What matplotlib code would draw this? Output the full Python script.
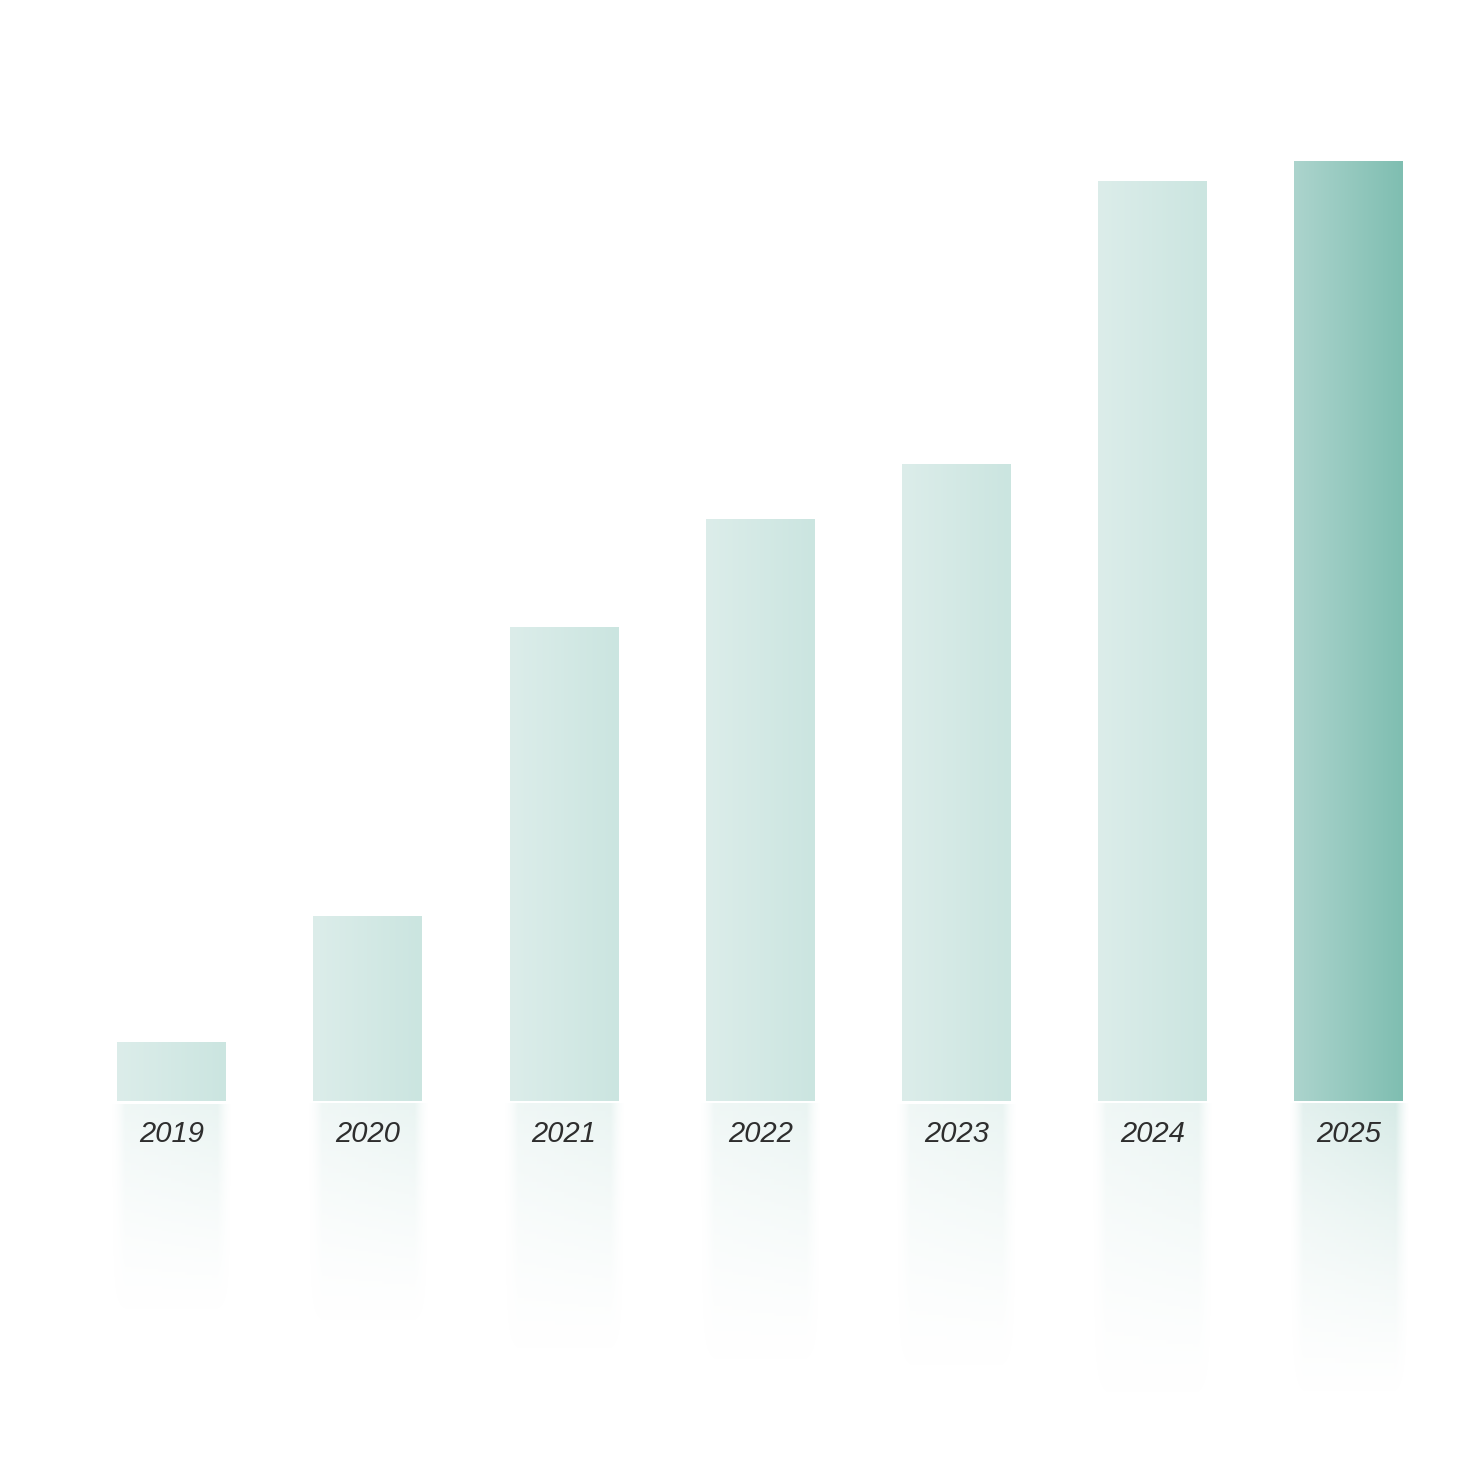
import numpy as np
import matplotlib.pyplot as plt
from matplotlib.colors import LinearSegmentedColormap, to_rgb

years = ["2019", "2020", "2021", "2022", "2023", "2024", "2025"]
values = [5.9, 18.5, 47.4, 58.2, 63.7, 92.0, 94.0]
highlight = "2025"

light_l, light_r = "#dcedea", "#cbe5e0"
dark_l, dark_r = "#acd4cd", "#7fbeb1"

fig = plt.figure(figsize=(14.8, 14.72), dpi=100)
ax = fig.add_axes([0, 0, 1, 1])
ax.set_xlim(-0.874, 6.668)
ax.set_ylim(-37.1, 110.1)
ax.axis("off")

x = np.arange(len(years))
width = 0.555
bars = ax.bar(x, values, width=width, color="none", edgecolor="none")

grad = np.linspace(0, 1, 256).reshape(1, -1)
for i, (b, yr) in enumerate(zip(bars, years)):
    if yr == highlight:
        c0, c1 = dark_l, dark_r
    else:
        c0, c1 = light_l, light_r
    cmap = LinearSegmentedColormap.from_list("g%d" % i, [c0, c1])
    x0 = b.get_x()
    x1 = x0 + b.get_width()
    h = b.get_height()
    im = ax.imshow(grad, cmap=cmap, aspect="auto", extent=[x0, x1, 0, h],
                   interpolation="bicubic", zorder=2)
    im.set_clip_path(b)

    # soft reflection below the baseline
    refl_len = 21 + 0.1 * h
    pad = 0.07
    nx, ny = 200, 200
    xs = np.linspace(x0 - pad, x1 + pad, nx)
    ys = np.linspace(0, 1, ny)
    edge = 0.07
    hx = np.clip((xs - (x0 - pad * 0.4)) / edge, 0, 1) * np.clip(((x1 + pad * 0.4) - xs) / edge, 0, 1)
    hx = hx ** 1.5
    vy = (1 - ys) ** 1.4
    a0 = 0.32 if yr == highlight else 0.42
    alpha = a0 * np.outer(vy, hx)
    t = (xs - x0) / (x1 - x0)
    t = np.clip(t, 0, 1)
    rgb0 = np.array(to_rgb(c0))
    rgb1 = np.array(to_rgb(c1))
    cols = rgb0[None, :] * (1 - t[:, None]) + rgb1[None, :] * t[:, None]
    rgba = np.zeros((ny, nx, 4))
    rgba[:, :, :3] = cols[None, :, :]
    rgba[:, :, 3] = alpha
    ax.imshow(rgba, aspect="auto", extent=[x0 - pad, x1 + pad, -refl_len, -0.3],
              origin="upper", interpolation="bilinear", zorder=1)

    ax.text(b.get_x() + b.get_width() / 2, -3.3, yr, ha="center", va="center",
            fontsize=21, style="italic", color="#2e2e2e",
            family=["Liberation Sans", "DejaVu Sans"], zorder=3)

ax.set_xlim(-0.874, 6.668)
ax.set_ylim(-37.1, 110.1)
fig.savefig("out.png", dpi=100, facecolor="white")
